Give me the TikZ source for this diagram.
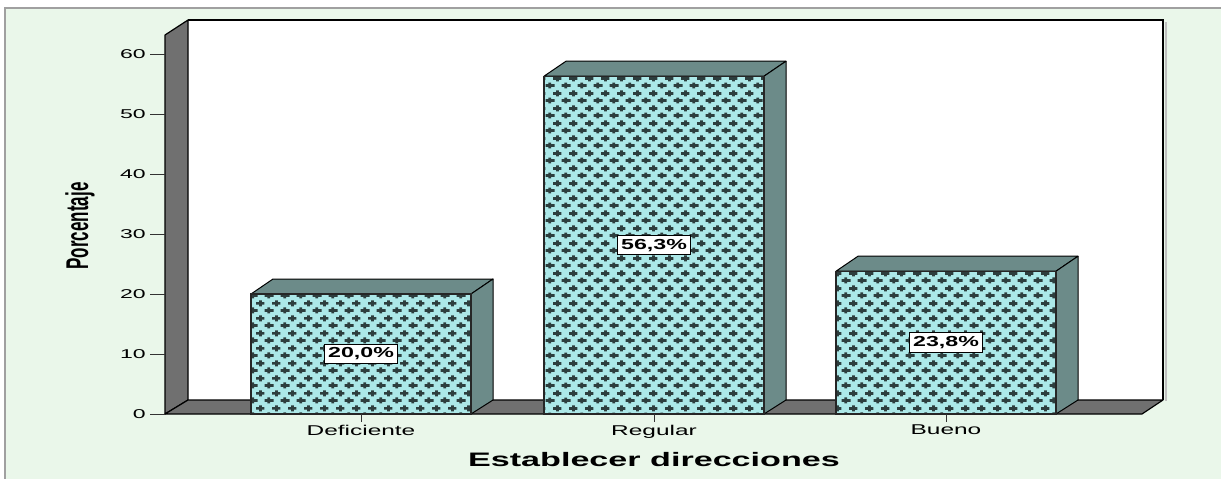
\documentclass[tikz,border=0pt]{standalone}
\usepackage{fontspec}
\setmainfont{Liberation Sans}
\usetikzlibrary{patterns}
\definecolor{bggreen}{RGB}{234,247,234}
\definecolor{framegray}{RGB}{160,160,160}
\definecolor{wallgray}{RGB}{112,112,112}
\definecolor{barside}{RGB}{108,139,137}
\definecolor{barfront}{RGB}{172,232,232}
\definecolor{patdark}{RGB}{45,62,62}
\pgfdeclarepatternformonly{pluses}{\pgfqpoint{0pt}{0pt}}{\pgfqpoint{15.6pt}{15pt}}{\pgfqpoint{15.6pt}{15pt}}{%
  \pgfsetlinewidth{2.9pt}%
  \pgfpathmoveto{\pgfqpoint{-0.2pt}{3.75pt}}\pgfpathlineto{\pgfqpoint{8.8pt}{3.75pt}}%
  \pgfpathmoveto{\pgfqpoint{3.9pt}{0.6pt}}\pgfpathlineto{\pgfqpoint{3.9pt}{6.9pt}}%
  \pgfpathmoveto{\pgfqpoint{7.2pt}{11.25pt}}\pgfpathlineto{\pgfqpoint{15.8pt}{11.25pt}}%
  \pgfpathmoveto{\pgfqpoint{11.7pt}{8.1pt}}\pgfpathlineto{\pgfqpoint{11.7pt}{14.4pt}}%
  \pgfpathmoveto{\pgfqpoint{15.4pt}{3.75pt}}\pgfpathlineto{\pgfqpoint{15.8pt}{3.75pt}}%
  \pgfusepath{stroke}}
\newcommand{\sx}[2][1.72]{\scalebox{#1}[1]{#2}}
\begin{document}
\begin{tikzpicture}[x=1pt,y=-1pt,
  wall/.style={fill=wallgray,draw=black,line width=1.2pt,line join=round},
  side/.style={fill=barside,draw=black,line width=1pt,line join=round},
  pat/.style={pattern=pluses,pattern color=patdark},
  ticklab/.style={anchor=east,inner sep=0pt,font=\fontsize{12.8}{14}\selectfont},
  catlab/.style={anchor=north,inner sep=0pt,font=\fontsize{14.2}{16}\selectfont},
  vallab/.style={fill=white,draw=black,line width=0.9pt,inner xsep=4pt,inner ysep=3.5pt,font=\bfseries\fontsize{14.5}{16}\selectfont},
  tickline/.style={draw=black!80,line width=0.9pt}]
\useasboundingbox (0,0) rectangle (1221,479);
% background frame
\fill[white] (0,0) rectangle (1221,479);
\fill[bggreen] (5,8) rectangle (1221,479);
\draw[framegray,line width=1.5pt] (5,479) -- (5,8) -- (1221,8);
% back wall
\fill[white] (188,20) rectangle (1163,400);
\draw[black!25,line width=2pt] (1166,22) -- (1166,401);
\draw[black,line width=1.3pt] (188,20) -- (1163,20) -- (1163,400);
% left wall and floor
\draw[wall] (165,35) -- (188,20) -- (188,400) -- (165,414) -- cycle;
\draw[wall] (165,414) -- (188,400) -- (1163,400) -- (1142,414) -- cycle;
% y ticks
\foreach \v in {0,10,...,60}{
  \coordinate (t\v) at (165,414-6*\v);
  \coordinate (s\v) at (150,414-6*\v);
  \draw[tickline] (s\v) -- (t\v);
  \node[ticklab] (l\v) at (146,414-6*\v) {\sx[1.8]{\v}};
}
% bars
\foreach \cx/\val/\lab/\name in {361/20.0/{20,0\%}/Deficiente, 654/56.3/{56,3\%}/Regular, 946/23.8/{23,8\%}/Bueno}{
  \pgfmathsetmacro{\xa}{\cx-110}
  \pgfmathsetmacro{\xb}{\cx+110}
  \pgfmathsetmacro{\yt}{414-6*\val}
  \draw[side] (\xa,\yt) -- (\xa+22,\yt-15) -- (\xb+22,\yt-15) -- (\xb,\yt) -- cycle;
  \draw[side] (\xb,\yt) -- (\xb+22,\yt-15) -- (\xb+22,400) -- (\xb,414) -- cycle;
  \fill[barfront] (\xa,\yt) rectangle (\xb,414);
  \fill[pat] (\xa,\yt) rectangle (\xb,414);
  \draw[black!85,line width=1.4pt] (\xa,\yt) rectangle (\xb,414);
  \node[vallab] (v\name) at (\cx,{414-3*\val}) {\sx[1.6]{\lab}};
  \coordinate (ta\name) at (\cx,414);
  \coordinate (tb\name) at (\cx,422);
  \draw[tickline] (ta\name) -- (tb\name);
  \node[catlab] (c\name) at (\cx,425) {\sx[1.72]{\name}};
}
% axis titles
\node[inner sep=0pt,font=\bfseries\fontsize{19.5}{22}\selectfont] (xt) at (654,460) {\sx[1.75]{Establecer direcciones}};
\node[rotate=90,inner sep=0pt,font=\bfseries\fontsize{17}{20}\selectfont] (yt) at (80,226) {\scalebox{1}[1.85]{Porcentaje}};
\end{tikzpicture}
\end{document}
